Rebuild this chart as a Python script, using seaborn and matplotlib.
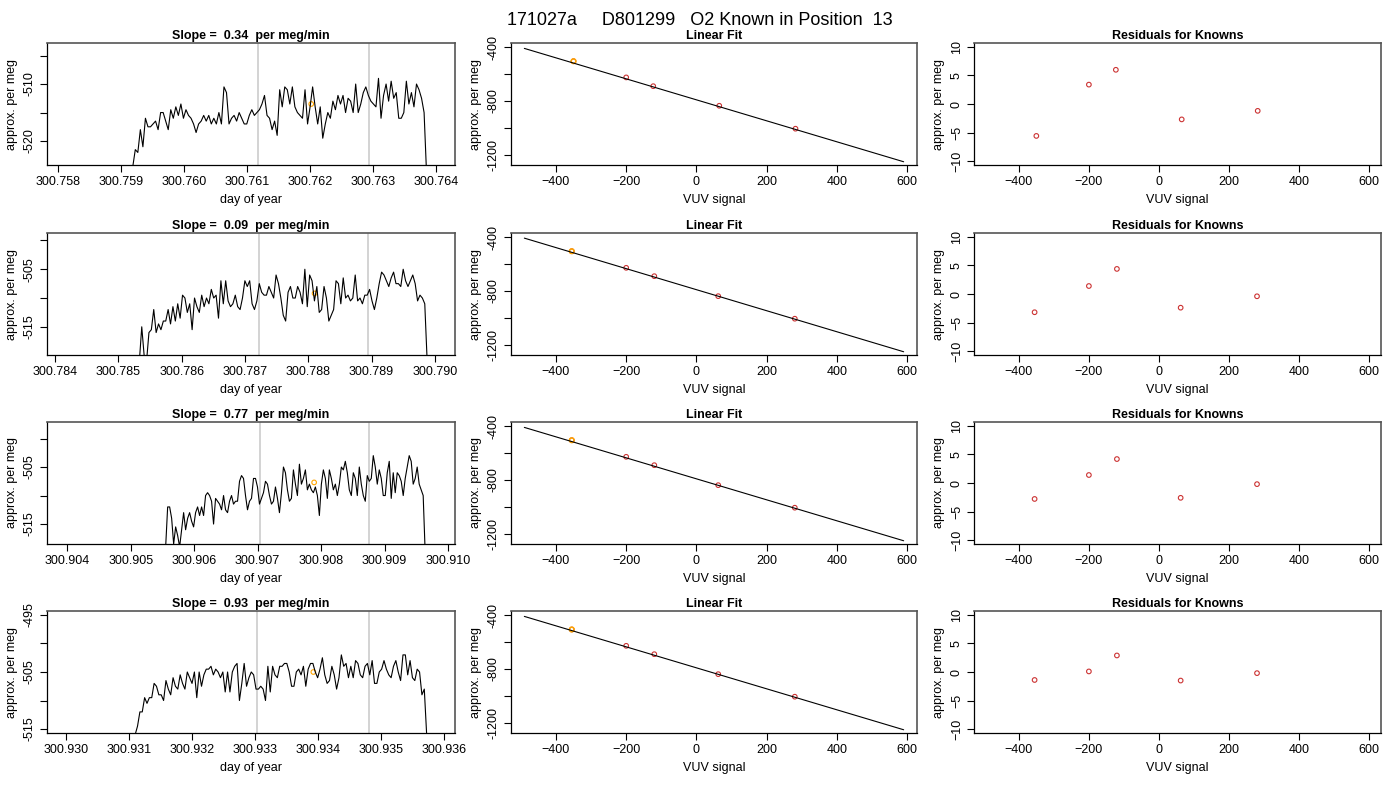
import numpy as np
import pandas as pd
import matplotlib
matplotlib.use("Agg")
import matplotlib.pyplot as plt
import seaborn as sns

sns.set_style("ticks")
plt.rcParams['font.family'] = ['Liberation Sans', 'DejaVu Sans']
plt.rcParams['text.color'] = 'black'
plt.rcParams['axes.labelcolor'] = 'black'
plt.rcParams['xtick.color'] = 'black'
plt.rcParams['ytick.color'] = 'black'

suptitle = "171027a     D801299   O2 Known in Position  13"
slopes = ["0.34", "0.09", "0.77", "0.93"]

ts1 = [-524.5, -521.5, -522, -518, -521, -516, -517.5, -517.5, -517, -516.5, -518, -515, -515, -516.5, -518, -514.5, -516, -514, -515.5, -513.5, -516, -514.5, -515.5, -516, -517, -518.5, -517, -516.5, -515.5, -516.5, -515.5, -517, -516, -517, -515, -517, -510.5, -511.5, -517, -516, -515.5, -516.5, -515, -516, -517, -517, -515.5, -514.5, -515.5, -515, -514.5, -513.5, -512, -515.5, -516, -518, -516.5, -519, -511, -514, -510.5, -511, -513.5, -510.5, -514, -515, -515.5, -516, -511, -517, -514, -510.5, -514, -517, -514, -519.5, -517, -515, -516, -513, -514.5, -512, -513.5, -512, -515, -512.5, -513, -515, -510, -515, -513.5, -511.5, -510.5, -512, -513, -513.5, -514, -509, -516, -512, -510, -513, -509.5, -512.5, -511.5, -516, -516, -515, -509.5, -513.5, -511.5, -514, -510, -511, -512.5, -515, -526]
ts2 = [-521, -515, -520, -521, -516, -515.5, -512, -516, -514.5, -515.5, -514, -514, -512, -514.5, -511.5, -514, -511, -513.5, -509.5, -510, -512.5, -511, -515.5, -510, -511.5, -512.5, -509.5, -511.5, -510, -511, -508.5, -510, -509.5, -513.5, -507, -511, -507, -510.5, -511.5, -511, -509.5, -511.5, -512, -510, -507, -508, -507, -511, -512, -510.5, -507.5, -509, -509.5, -509.5, -508, -509, -510, -506, -507.5, -510, -513, -514, -509, -508, -510, -510, -508, -509, -511, -505, -511.5, -506, -507, -510.5, -508, -512.5, -512, -508, -510, -514, -513, -512, -507, -507.5, -511, -506.5, -510, -509.5, -510.5, -510, -506, -510.5, -510, -511, -509.5, -509.5, -508.5, -510.5, -512, -510, -507.5, -505.5, -506, -507, -508, -506.5, -505.5, -507.5, -507.5, -508, -505, -507, -508, -507, -506, -507.5, -510.5, -509.5, -510, -511, -521]
ts3 = [-519, -512, -512, -514, -518.5, -515.5, -517, -519, -516, -513, -516, -514, -513, -514.5, -515.5, -513, -512, -513.5, -512, -513.5, -510, -509.5, -510, -511, -515, -510.5, -511, -511.5, -512.5, -510, -512.5, -513, -511, -510, -511.5, -511, -511, -507.5, -506.5, -507, -510, -512.5, -511, -510.5, -507, -507, -508.5, -511.5, -510.5, -509.5, -507.5, -508, -510, -511.5, -511, -508.5, -510.5, -513, -509.5, -505, -506, -509, -511, -510.5, -505.5, -508, -510, -504.5, -508, -507, -505.5, -509, -508, -509, -509.5, -508.5, -510, -513.5, -508, -505.5, -507, -510.5, -505.5, -507, -509, -508, -510, -508, -505, -505.5, -504, -506, -509, -510, -506, -507, -510, -505, -508, -510, -511, -506.5, -507.5, -507, -503, -505, -508, -505.5, -507, -510, -510, -506, -504, -510.5, -506, -509.5, -506, -506.5, -507.5, -510, -507, -505, -503, -504, -508, -507, -505, -508, -509, -510, -520]
ts4 = [-516, -514.5, -512, -512, -509.5, -510.5, -509.5, -509.5, -507, -507.5, -509, -509, -510, -506.5, -508, -509, -506, -507.5, -508, -505.5, -507, -508, -505, -506, -507, -505, -509.5, -505, -507.5, -505.5, -504.5, -504.5, -504, -505.5, -504.5, -505, -506, -505, -508.5, -505, -508.5, -505, -504, -503.5, -510, -507, -503.5, -507.5, -506, -505, -505.5, -508, -508, -507.5, -508, -510, -504, -508.5, -504, -505.5, -506, -504, -504, -503.5, -503.5, -505, -507.5, -507.5, -505, -504.5, -505.5, -504, -507.5, -504.5, -503.5, -503.5, -505, -506, -504.5, -502.5, -505.5, -507, -506.5, -504, -505.5, -508, -506, -502, -504, -503.5, -506, -504, -506, -503, -503.5, -505.5, -506, -504, -503.5, -505.5, -503, -507, -507, -505, -504.5, -503, -504.5, -505.5, -506, -504, -503, -505, -506.5, -502, -502, -505.5, -503, -506, -506.5, -504.5, -505, -509, -508, -516]
ts_values = [ts1, ts2, ts3, ts4]
ts_start = [300.75919, 300.78533, 300.90555, 300.93110]
ts_end = [300.76385, 300.78988, 300.90964, 300.93573]
gray_lines = [(300.76118, 300.76294), (300.78722, 300.78895), (300.90703, 300.90876), (300.93304, 300.93481)]
orange_x = [300.76202, 300.78810, 300.90789, 300.93393]
orange_y = [-513.5, -509.2, -507.7, -505.0]
ts_xlim = [(300.75783, 300.7643), (300.78387, 300.79032), (300.90368, 300.91011), (300.9297, 300.93618)]
ts_ylim = [(-524.2, -502.8), (-519.9, -498.7), (-518.5, -497.1), (-515.7, -494.3)]
ts_xticks = [[300.758 + 0.001*i for i in range(7)], [300.784 + 0.001*i for i in range(7)],
             [300.904 + 0.001*i for i in range(7)], [300.930 + 0.001*i for i in range(7)]]
ts_yticks = [[-520, -515, -510, -505], [-515, -510, -505, -500], [-515, -510, -505, -500], [-515, -510, -505, -500, -495]]
ts_ylabels = [[-520, -510], [-515, -505], [-515, -505], [-515, -505, -495]]

known_x = [[-350, -200, -123, 65, 282], [-355, -200, -120, 62, 280], [-355, -200, -120, 62, 280], [-355, -200, -120, 62, 280]]
known_y = [[-505, -625, -690, -835, -1005], [-505, -628, -690, -838, -1005], [-505, -628, -690, -838, -1005], [-507, -628, -690, -838, -1005]]
fit_x = [-490, 590]
fit_y = [[-410, -1250], [-408, -1250], [-410, -1250], [-410, -1250]]
resid = [[-5.6, 3.4, 6.0, -2.7, -1.2], [-3.2, 1.4, 4.4, -2.4, -0.4], [-2.8, 1.4, 4.2, -2.6, -0.2], [-1.4, 0.1, 2.9, -1.5, -0.2]]

W, H = 1400, 800
fig = plt.figure(figsize=(14, 8), dpi=100)
fig.suptitle(suptitle, y=1 - 12/H, fontsize=13)
col_l = [47, 511, 974]
col_w = [408, 406, 407]
row_t = [43, 233, 422, 611]
row_h = 122
fs = 9

def style(ax):
    for s in ['left', 'bottom']:
        ax.spines[s].set_color('black'); ax.spines[s].set_linewidth(0.9)
    for s in ['top', 'right']:
        ax.spines[s].set_color('#555555'); ax.spines[s].set_linewidth(1.2)
    ax.tick_params(labelsize=fs, length=5, width=0.8, pad=3)
    for lab in ax.get_yticklabels():
        lab.set_rotation(90); lab.set_va('center')

mk = dict(s=11, facecolor='none', linewidth=0.8)
for r in range(4):
    axes = []
    for c in range(3):
        ax = fig.add_axes([col_l[c]/W, 1 - (row_t[r] + row_h)/H, col_w[c]/W, row_h/H])
        axes.append(ax)
    ax = axes[0]
    vals = ts_values[r]
    df = pd.DataFrame({'t': np.linspace(ts_start[r], ts_end[r], len(vals)), 'v': vals})
    for g in gray_lines[r]:
        ax.axvline(g, color='#cccccc', lw=1.2, zorder=0)
    sns.lineplot(data=df, x='t', y='v', ax=ax, color='black', lw=0.8, estimator=None)
    sns.scatterplot(x=[orange_x[r]], y=[orange_y[r]], ax=ax, edgecolor='orange', **mk)
    ax.set_xlim(*ts_xlim[r]); ax.set_ylim(*ts_ylim[r])
    ax.set_xticks(ts_xticks[r])
    ax.set_xticklabels([f"{v:.3f}" for v in ts_xticks[r]])
    ax.set_yticks(ts_yticks[r])
    ax.set_yticklabels([str(v) if v in ts_ylabels[r] else "" for v in ts_yticks[r]])
    ax.set_xlabel("day of year", fontsize=fs)
    ax.set_ylabel("approx. per meg", fontsize=fs)
    ax.set_title(f"Slope =  {slopes[r]}  per meg/min", fontsize=fs, fontweight='bold', pad=3)
    style(ax)
    ax = axes[1]
    sns.lineplot(x=fit_x, y=fit_y[r], ax=ax, color='black', lw=0.8)
    sns.scatterplot(x=known_x[r], y=known_y[r], ax=ax, edgecolor='#cc3333', **mk)
    sns.scatterplot(x=known_x[r][:1], y=known_y[r][:1], ax=ax, edgecolor='orange', s=11, facecolor='none', linewidth=1.1)
    ax.set_xlim(-528, 628); ax.set_ylim(-1274, -370)
    ax.set_xticks([-400, -200, 0, 200, 400, 600])
    ax.set_yticks([-1200, -1000, -800, -600, -400])
    ax.set_yticklabels(["-1200", "", "-800", "", "-400"])
    ax.set_xlabel("VUV signal", fontsize=fs)
    ax.set_ylabel("approx. per meg", fontsize=fs)
    ax.set_title("Linear Fit", fontsize=fs, fontweight='bold', pad=3)
    style(ax)
    ax = axes[2]
    sns.scatterplot(x=known_x[r], y=resid[r], ax=ax, edgecolor='#cc3333', **mk)
    ax.set_xlim(-528, 634); ax.set_ylim(-10.7, 10.7)
    ax.set_xticks([-400, -200, 0, 200, 400, 600])
    ax.set_yticks([-10, -5, 0, 5, 10])
    ax.set_xlabel("VUV signal", fontsize=fs)
    ax.set_ylabel("approx. per meg", fontsize=fs)
    ax.set_title("Residuals for Knowns", fontsize=fs, fontweight='bold', pad=3)
    style(ax)

fig.savefig("out.png", dpi=100)
